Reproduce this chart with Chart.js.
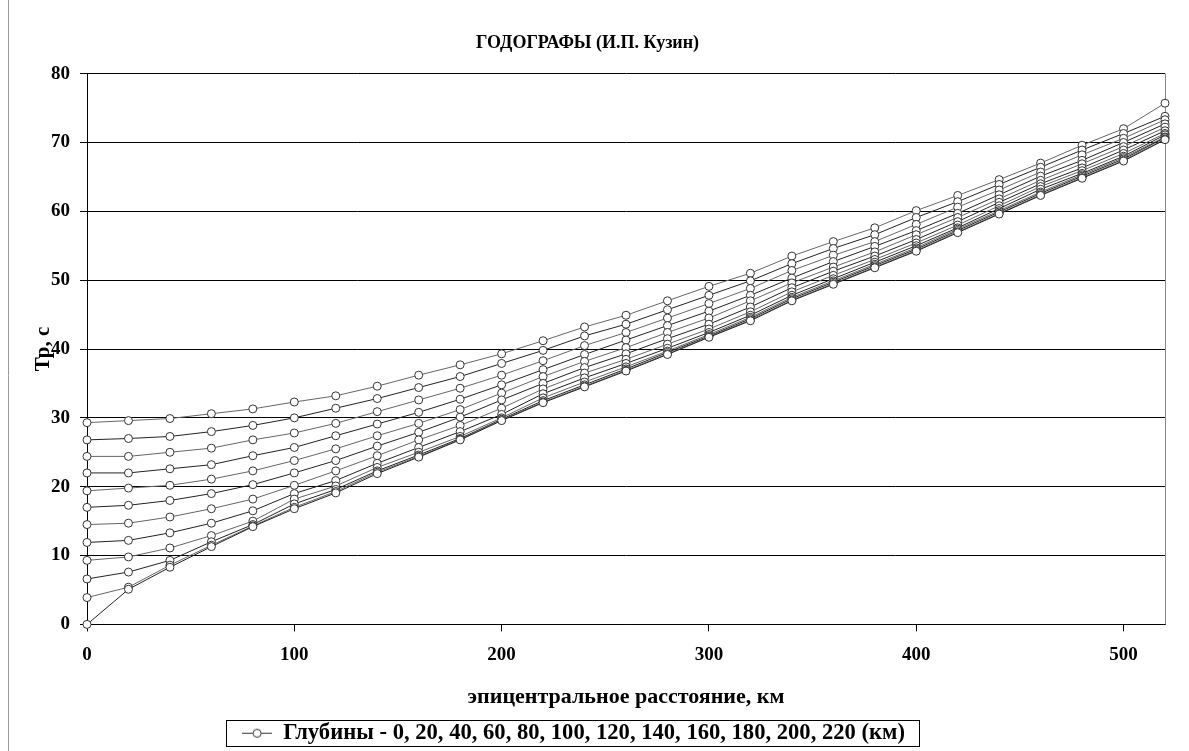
<!DOCTYPE html>
<html>
<head>
<meta charset="utf-8">
<script src="https://cdn.jsdelivr.net/npm/chart.js@4"></script>
<style>
  body { margin: 0; background: #fff; }
  #wrap { width: 1189px; height: 751px; }
</style>
</head>
<body>
<div id="wrap"><canvas id="hodoChart" width="1189" height="751"></canvas></div>
<script>
// эпицентральные расстояния, км
const distances = [0, 20, 40, 60, 80, 100, 120, 140, 160, 180, 200, 220, 240, 260,
    280, 300, 320, 340, 360, 380, 400, 420, 440, 460, 480, 500, 520];
const depths = [0, 20, 40, 60, 80, 100, 120, 140, 160, 180, 200, 220];

// времена пробега Tp, c (для каждой глубины)
const t0   = [0.0, 5.1, 8.3, 11.3, 14.2, 16.8, 19.1, 21.9, 24.3, 26.8, 29.6, 32.2, 34.5, 36.8, 39.2, 41.7, 44.1, 47.0, 49.4, 51.8, 54.2, 56.9, 59.6, 62.3, 64.8, 67.3, 70.4];
const t20  = [3.9, 5.4, 8.6, 11.5, 14.3, 17.0, 19.3, 22.1, 24.4, 26.9, 29.7, 32.3, 34.6, 36.9, 39.3, 41.8, 44.2, 47.1, 49.5, 51.9, 54.3, 57.0, 59.7, 62.4, 64.9, 67.4, 70.5];
const t40  = [6.6, 7.6, 9.3, 12.0, 14.5, 17.5, 19.6, 22.3, 24.6, 27.0, 29.8, 32.5, 34.8, 37.1, 39.5, 41.9, 44.4, 47.3, 49.7, 52.1, 54.5, 57.2, 59.9, 62.6, 65.1, 67.6, 70.7];
const t60  = [9.3, 9.8, 11.1, 12.9, 15.0, 18.2, 20.1, 22.8, 25.0, 27.3, 30.0, 32.9, 35.2, 37.4, 39.7, 42.1, 44.6, 47.5, 49.9, 52.3, 54.7, 57.4, 60.1, 62.8, 65.3, 67.8, 70.8];
const t80  = [11.9, 12.2, 13.3, 14.7, 16.5, 19.0, 20.9, 23.4, 25.7, 28.0, 30.5, 33.5, 35.8, 37.9, 40.1, 42.4, 44.9, 47.8, 50.2, 52.6, 55.0, 57.6, 60.4, 63.2, 65.5, 68.0, 71.1];
const t100 = [14.5, 14.7, 15.6, 16.8, 18.2, 20.2, 22.3, 24.5, 26.8, 28.9, 31.4, 34.2, 36.5, 38.5, 40.7, 42.9, 45.4, 48.3, 50.7, 53.0, 55.4, 58.0, 60.8, 63.6, 65.9, 68.4, 71.3];
const t120 = [17.0, 17.3, 18.0, 19.0, 20.3, 22.0, 23.8, 25.9, 27.9, 30.1, 32.6, 35.0, 37.3, 39.3, 41.5, 43.6, 46.1, 48.9, 51.3, 53.5, 55.9, 58.5, 61.3, 64.0, 66.3, 68.9, 71.7];
const t140 = [19.4, 19.8, 20.2, 21.1, 22.3, 23.8, 25.5, 27.4, 29.2, 31.2, 33.6, 36.0, 38.2, 40.2, 42.4, 44.5, 47.0, 49.6, 51.9, 54.1, 56.6, 59.1, 61.8, 64.5, 66.9, 69.4, 72.2];
const t160 = [22.0, 22.0, 22.6, 23.2, 24.5, 25.7, 27.4, 29.1, 30.8, 32.7, 34.8, 37.0, 39.2, 41.3, 43.4, 45.5, 47.8, 50.3, 52.7, 54.9, 57.2, 59.7, 62.4, 65.1, 67.4, 70.0, 72.7];
const t180 = [24.4, 24.4, 25.0, 25.6, 26.8, 27.8, 29.2, 30.9, 32.6, 34.3, 36.2, 38.3, 40.5, 42.4, 44.5, 46.6, 48.8, 51.4, 53.6, 55.6, 58.1, 60.6, 63.1, 65.7, 68.2, 70.6, 73.3];
const t200 = [26.8, 27.0, 27.3, 28.0, 28.9, 30.0, 31.4, 32.8, 34.4, 36.0, 37.9, 39.8, 41.9, 43.6, 45.7, 47.8, 49.9, 52.4, 54.6, 56.6, 59.1, 61.4, 63.9, 66.4, 68.9, 71.3, 73.8];
const t220 = [29.3, 29.6, 29.9, 30.6, 31.3, 32.3, 33.2, 34.6, 36.2, 37.7, 39.3, 41.2, 43.2, 44.9, 47.0, 49.1, 51.0, 53.5, 55.6, 57.6, 60.1, 62.3, 64.6, 67.0, 69.6, 72.0, 75.7];

const series = [t0, t20, t40, t60, t80, t100, t120, t140, t160, t180, t200, t220];
const legendText = 'Глубины - ' + depths.join(', ') + ' (км)';

const serif = "'Liberation Serif', 'Times New Roman', serif";

// значок легенды: линия с кружком
const legendIcon = document.createElement('canvas');
legendIcon.width = 30;
legendIcon.height = 12;
(function () {
    const c = legendIcon.getContext('2d');
    c.strokeStyle = '#333';
    c.lineWidth = 1;
    c.beginPath();
    c.moveTo(0, 6.5);
    c.lineTo(30, 6.5);
    c.stroke();
    c.beginPath();
    c.arc(15, 6.5, 4, 0, Math.PI * 2);
    c.fillStyle = '#fff';
    c.fill();
    c.stroke();
})();

const datasets = series.map(function (vals, i) {
    return {
        label: depths[i] + ' км',
        data: vals.map(function (v, j) { return { x: distances[j], y: v }; }),
        borderColor: i % 2 === 0 ? '#222' : '#666',
        borderWidth: 1,
        pointRadius: 4,
        pointHoverRadius: 4,
        pointBackgroundColor: '#fff',
        pointBorderColor: '#333',
        pointBorderWidth: 1,
        tension: 0,
        clip: false
    };
});

// рамки: область построения, рамка легенды, левый край диаграммы
const framePlugin = {
    id: 'frames',
    afterLayout(chart) {
        // легенда в оригинале чуть левее центра
        chart.legend.left -= 14;
        chart.legend.right -= 14;
    },
    beforeDatasetsDraw(chart) {
        const a = chart.chartArea;
        const ctx = chart.ctx;
        ctx.save();
        ctx.strokeStyle = '#888';
        ctx.lineWidth = 1;
        ctx.beginPath();
        ctx.moveTo(Math.round(a.right) + 0.5, a.top);
        ctx.lineTo(Math.round(a.right) + 0.5, a.bottom);
        ctx.stroke();
        ctx.restore();
    },
    afterDraw(chart) {
        const ctx = chart.ctx;
        ctx.save();
        ctx.strokeStyle = '#999';
        ctx.lineWidth = 1;
        ctx.beginPath();
        ctx.moveTo(8.5, 0);
        ctx.lineTo(8.5, 751);
        ctx.stroke();
        const hb = chart.legend.legendHitBoxes[0];
        if (hb) {
            const cy = hb.top + hb.height / 2;
            ctx.strokeStyle = '#000';
            ctx.strokeRect(Math.round(hb.left - 16) + 0.5, Math.round(cy - 13) + 0.5,
                Math.round(hb.width + 30), 26);
        }
        ctx.restore();
    }
};

const ctx = document.getElementById('hodoChart').getContext('2d');
const hodoChart = new Chart(ctx, {
    type: 'line',
    data: { datasets: datasets },
    options: {
        responsive: false,
        animation: false,
        events: [],
        layout: { padding: { left: 10, right: 24, top: 0, bottom: -3 } },
        scales: {
            x: {
                type: 'linear',
                min: 0,
                max: 520,
                afterFit: function (scale) { scale.height = 91; },
                ticks: {
                    stepSize: 100,
                    includeBounds: false,
                    color: '#000',
                    padding: 12,
                    font: { family: serif, size: 19, weight: 'bold' }
                },
                grid: { drawOnChartArea: false, tickLength: 7, color: '#000' },
                border: { color: '#000', width: 1 },
                title: {
                    display: true,
                    text: 'эпицентральное расстояние, км',
                    color: '#000',
                    padding: { top: 0, bottom: 5 },
                    font: { family: serif, size: 22, weight: 'bold' }
                }
            },
            y: {
                min: 0,
                max: 80,
                afterFit: function (scale) { scale.width = 77; },
                ticks: {
                    stepSize: 10,
                    color: '#000',
                    padding: 10,
                    font: { family: serif, size: 19, weight: 'bold' }
                },
                grid: { color: '#000', tickLength: 7, lineWidth: 1 },
                border: { color: '#000', width: 1 },
                title: {
                    display: true,
                    text: 'Тр, с',
                    color: '#000',
                    padding: { top: 21, bottom: 0 },
                    font: { family: serif, size: 21, weight: 'bold' }
                }
            }
        },
        plugins: {
            title: {
                display: true,
                text: 'ГОДОГРАФЫ (И.П. Кузин)',
                color: '#000',
                padding: { top: 33, bottom: 19 },
                font: { family: serif, size: 18, weight: 'bold' }
            },
            legend: {
                position: 'bottom',
                labels: {
                    usePointStyle: true,
                    pointStyle: legendIcon,
                    pointStyleWidth: 30,
                    padding: 6,
                    color: '#000',
                    font: { family: serif, size: 22.6, weight: 'bold' },
                    generateLabels: function (chart) {
                        const item = Chart.defaults.plugins.legend.labels.generateLabels(chart)[0];
                        item.text = legendText;
                        return [item];
                    }
                }
            },
            tooltip: { enabled: false }
        }
    },
    plugins: [framePlugin]
});
</script>
</body>
</html>
